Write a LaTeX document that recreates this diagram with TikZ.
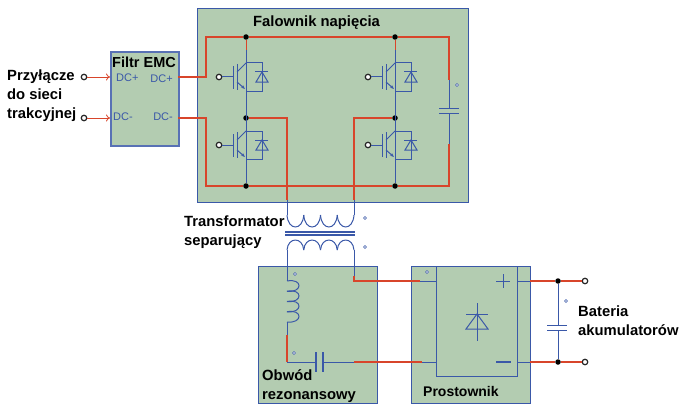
\documentclass[tikz,border=0pt]{standalone}
\usepackage{fontspec}
\setmainfont{Liberation Sans}
\usetikzlibrary{arrows.meta}
\definecolor{panel}{HTML}{B3CCB1}
\definecolor{wirered}{HTML}{D8452B}
\definecolor{wireblue}{HTML}{3A58A8}
\tikzset{
  panelbox/.style={draw=wireblue, fill=panel, line width=1pt, inner sep=0pt, anchor=north west},
  title/.style={font=\bfseries\fontsize{14.8}{19}\selectfont, text=black, align=left, inner sep=0pt},
  pinlabel/.style={font=\fontsize{11}{12}\selectfont, text=wireblue, inner sep=0pt},
  redwire/.style={draw=wirered, line width=1.5pt},
  bluewire/.style={draw=wireblue, line width=1pt},
  junction/.style={circle, fill=black, inner sep=0pt, minimum size=5.5pt},
  terminal/.style={circle, draw=black!85, fill=white, line width=1.2pt, inner sep=0pt, minimum size=5.5pt},
  mark dot/.style={circle, draw=wireblue, fill=white, line width=.6pt, inner sep=0pt, minimum size=3pt},
  pics/igbt/.style={code={
    % Tranzystor i dioda
    \node[terminal] (-gate) at (-27,0) {};
    \draw[bluewire] (-gate) -- (-13,0);
    \draw[bluewire] (-13,-11) -- (-13,12);
    \draw[bluewire] (-9,-13) -- (-9,13);
    \draw[bluewire] (-9,-5) -- (0,-14);
    \draw[bluewire, -{Stealth[length=4pt,width=3pt]}] (-9,5) -- (-1,12);
    \draw[bluewire] (0,-14) -- (16,-14) -- (16,14) -- (0,14);
    \draw[bluewire] (9,-5) -- (22,-5);
    \draw[bluewire] (16,-5) -- (10,5) -- (22,5) -- cycle;
  }}
}
\begin{document}
\begin{tikzpicture}[x=1pt,y=-1pt]
  \useasboundingbox (0,0) rectangle (688,412);

  % Bloki
  \node[panelbox, minimum width=271pt, minimum height=194pt] (falownik) at (197,8) {};
  \node[panelbox, draw=wireblue!85, line width=2pt, minimum width=68pt, minimum height=94pt] (filtr) at (110,51) {};
  \node[panelbox, minimum width=119pt, minimum height=137pt] (obwod) at (258,266) {};
  \node[panelbox, minimum width=119pt, minimum height=137pt] (prostownik) at (411,266) {};
  \node[panelbox, minimum width=81pt, minimum height=110pt] (mostek) at (436,266) {};

  % Punkty
  \foreach \name/\px/\py in {ja/246/37, jb/246/118, jc/246/186, jd/395/37, je/395/118, jf/395/186, jg/558/281, jh/558/362}
    \node[junction] (\name) at (\px,\py) {};
  \foreach \name/\px/\py in {ta/84/77, tb/84/118, tc/585/281, td/585/362}
    \node[terminal] (\name) at (\px,\py) {};
  \foreach \px/\py in {457/85, 365/218, 365/247, 295/274, 294/353, 427/272, 566/301}
    \node[mark dot] at (\px,\py) {};

  % Falownik: zasilanie
  \coordinate (fa) at (178,77);
  \coordinate (fb) at (178,118);
  \coordinate (ca) at (449,80);
  \coordinate (cb) at (449,144);
  \draw[bluewire] (ca) -- (449,108) (449,113) -- (cb);
  \draw[bluewire] (439,108) -- (459,108) (439,113) -- (459,113);

  % Tranzystory
  \draw[bluewire] (ja) -- (jc);
  \draw[bluewire] (jd) -- (jf);
  \draw[redwire, line width=1pt] (ja) -- (246,50);
  \draw[redwire, line width=1pt] (jd) -- (395,50);
  \pic (ga) at (246,77) {igbt};
  \pic (gb) at (246,145) {igbt};
  \pic (gc) at (395,77) {igbt};
  \pic (gd) at (395,145) {igbt};
  \draw[redwire] (fa) -- (206,77) -- (206,37) -- (ja) -- (jd) -- (449,37) -- (ca);
  \draw[redwire] (fb) -- (206,118) -- (206,186) -- (jc) -- (jf) -- (449,186) -- (cb);

  % Transformator
  \coordinate (pa) at (287,200);
  \coordinate (pb) at (354,200);
  \draw[redwire, line width=1.2pt] (jb) -- (287,118) -- (pa);
  \draw[redwire, line width=1.2pt] (je) -- (354,118) -- (pb);
  \draw[bluewire] (pa) -- (287,215);
  \draw[bluewire] (pb) -- (354,215);
  \foreach \i in {0,1,2,3}
    \draw[bluewire] ({287+16.75*\i},215) .. controls ({288+16.75*\i},231) and ({302.75+16.75*\i},231) .. ({303.75+16.75*\i},215);
  \draw[bluewire, line width=1.4pt] (285,232) -- (355,232) (285,235) -- (355,235);
  \foreach \i in {0,1,2,3}
    \draw[bluewire] ({287+16.75*\i},250) .. controls ({288+16.75*\i},236.7) and ({302.75+16.75*\i},236.7) .. ({303.75+16.75*\i},250);

  % Obwod rezonansowy
  \draw[bluewire] (287,250) -- (287,281);
  \foreach \i in {0,1,2,3}
    \draw[bluewire] (287,{281+10.25*\i}) .. controls (303,{278+10.25*\i}) and (303,{293+10.25*\i}) .. (287,{291.25+10.25*\i});
  \draw[bluewire] (287,322) -- (287,335);
  \draw[redwire, line width=1.2pt] (287,335) -- (287,362);
  \draw[bluewire] (287,362) -- (316,362) (323,362) -- (354,362);
  \draw[bluewire, line width=1.3pt] (316,352) -- (316,372) (323,352) -- (323,372);
  \draw[redwire] (354,362) -- (422,362);
  \draw[bluewire] (422,362) -- (436,362);
  \draw[bluewire] (354,250) -- (354,276);
  \draw[redwire, line width=1.2pt] (354,276) -- (354,281) -- (420,281);
  \draw[bluewire] (420,281) -- (436,281);

  % Prostownik
  \draw[bluewire] (496,281) -- (510,281) (503,274) -- (503,288);
  \draw[bluewire, line width=1.4pt] (496,362) -- (511,362);
  \draw[bluewire] (477,303) -- (477,341);
  \draw[bluewire] (466,314) -- (488,314);
  \draw[bluewire] (477,314) -- (466,329) -- (488,329) -- cycle;
  \draw[bluewire] (mostek.east |- jg) -- (530,281);
  \draw[bluewire] (mostek.east |- jh) -- (530,362);
  \draw[redwire, line width=1.2pt] (530,281) -- (jg);
  \draw[redwire] (530,362) -- (jh);
  \draw[redwire, line width=1.2pt] (jg) -- (tc);
  \draw[redwire] (jh) -- (td);
  \draw[bluewire] (jg) -- (558,325) (558,330) -- (jh);
  \draw[bluewire] (547,325) -- (567,325) (547,330) -- (567,330);

  % Wejscie
  \draw[wirered, line width=.8pt, -{To[length=4pt,width=7pt]}] (ta) -- (filtr.west |- ta);
  \draw[wirered, line width=.8pt, -{To[length=4pt,width=7pt]}] (tb) -- (filtr.west |- tb);

  % Opisy
  \node[title, anchor=west, font=\bfseries\fontsize{14.5}{18}\selectfont] at (112,62) {Filtr EMC};
  \node[pinlabel, anchor=west] at (116,78) {DC+};
  \node[pinlabel, anchor=east] at (173,79) {DC+};
  \node[pinlabel, anchor=west] at (113,117) {DC-};
  \node[pinlabel, anchor=east] at (173,117) {DC-};
  \node[title, anchor=west] at (253,23) {Falownik napięcia};
  \node[title, anchor=north west] at (7,70) {Przyłącze\\do sieci\\trakcyjnej};
  \node[title, anchor=north west] at (184,216) {Transformator\\separujący};
  \node[title, anchor=north west] at (262,369) {Obwód\\rezonansowy};
  \node[title, anchor=west, font=\bfseries\fontsize{14}{18}\selectfont] at (423,391) {Prostownik};
  \node[title, anchor=north west] at (578,306) {Bateria\\akumulatorów};
\end{tikzpicture}
\end{document}
